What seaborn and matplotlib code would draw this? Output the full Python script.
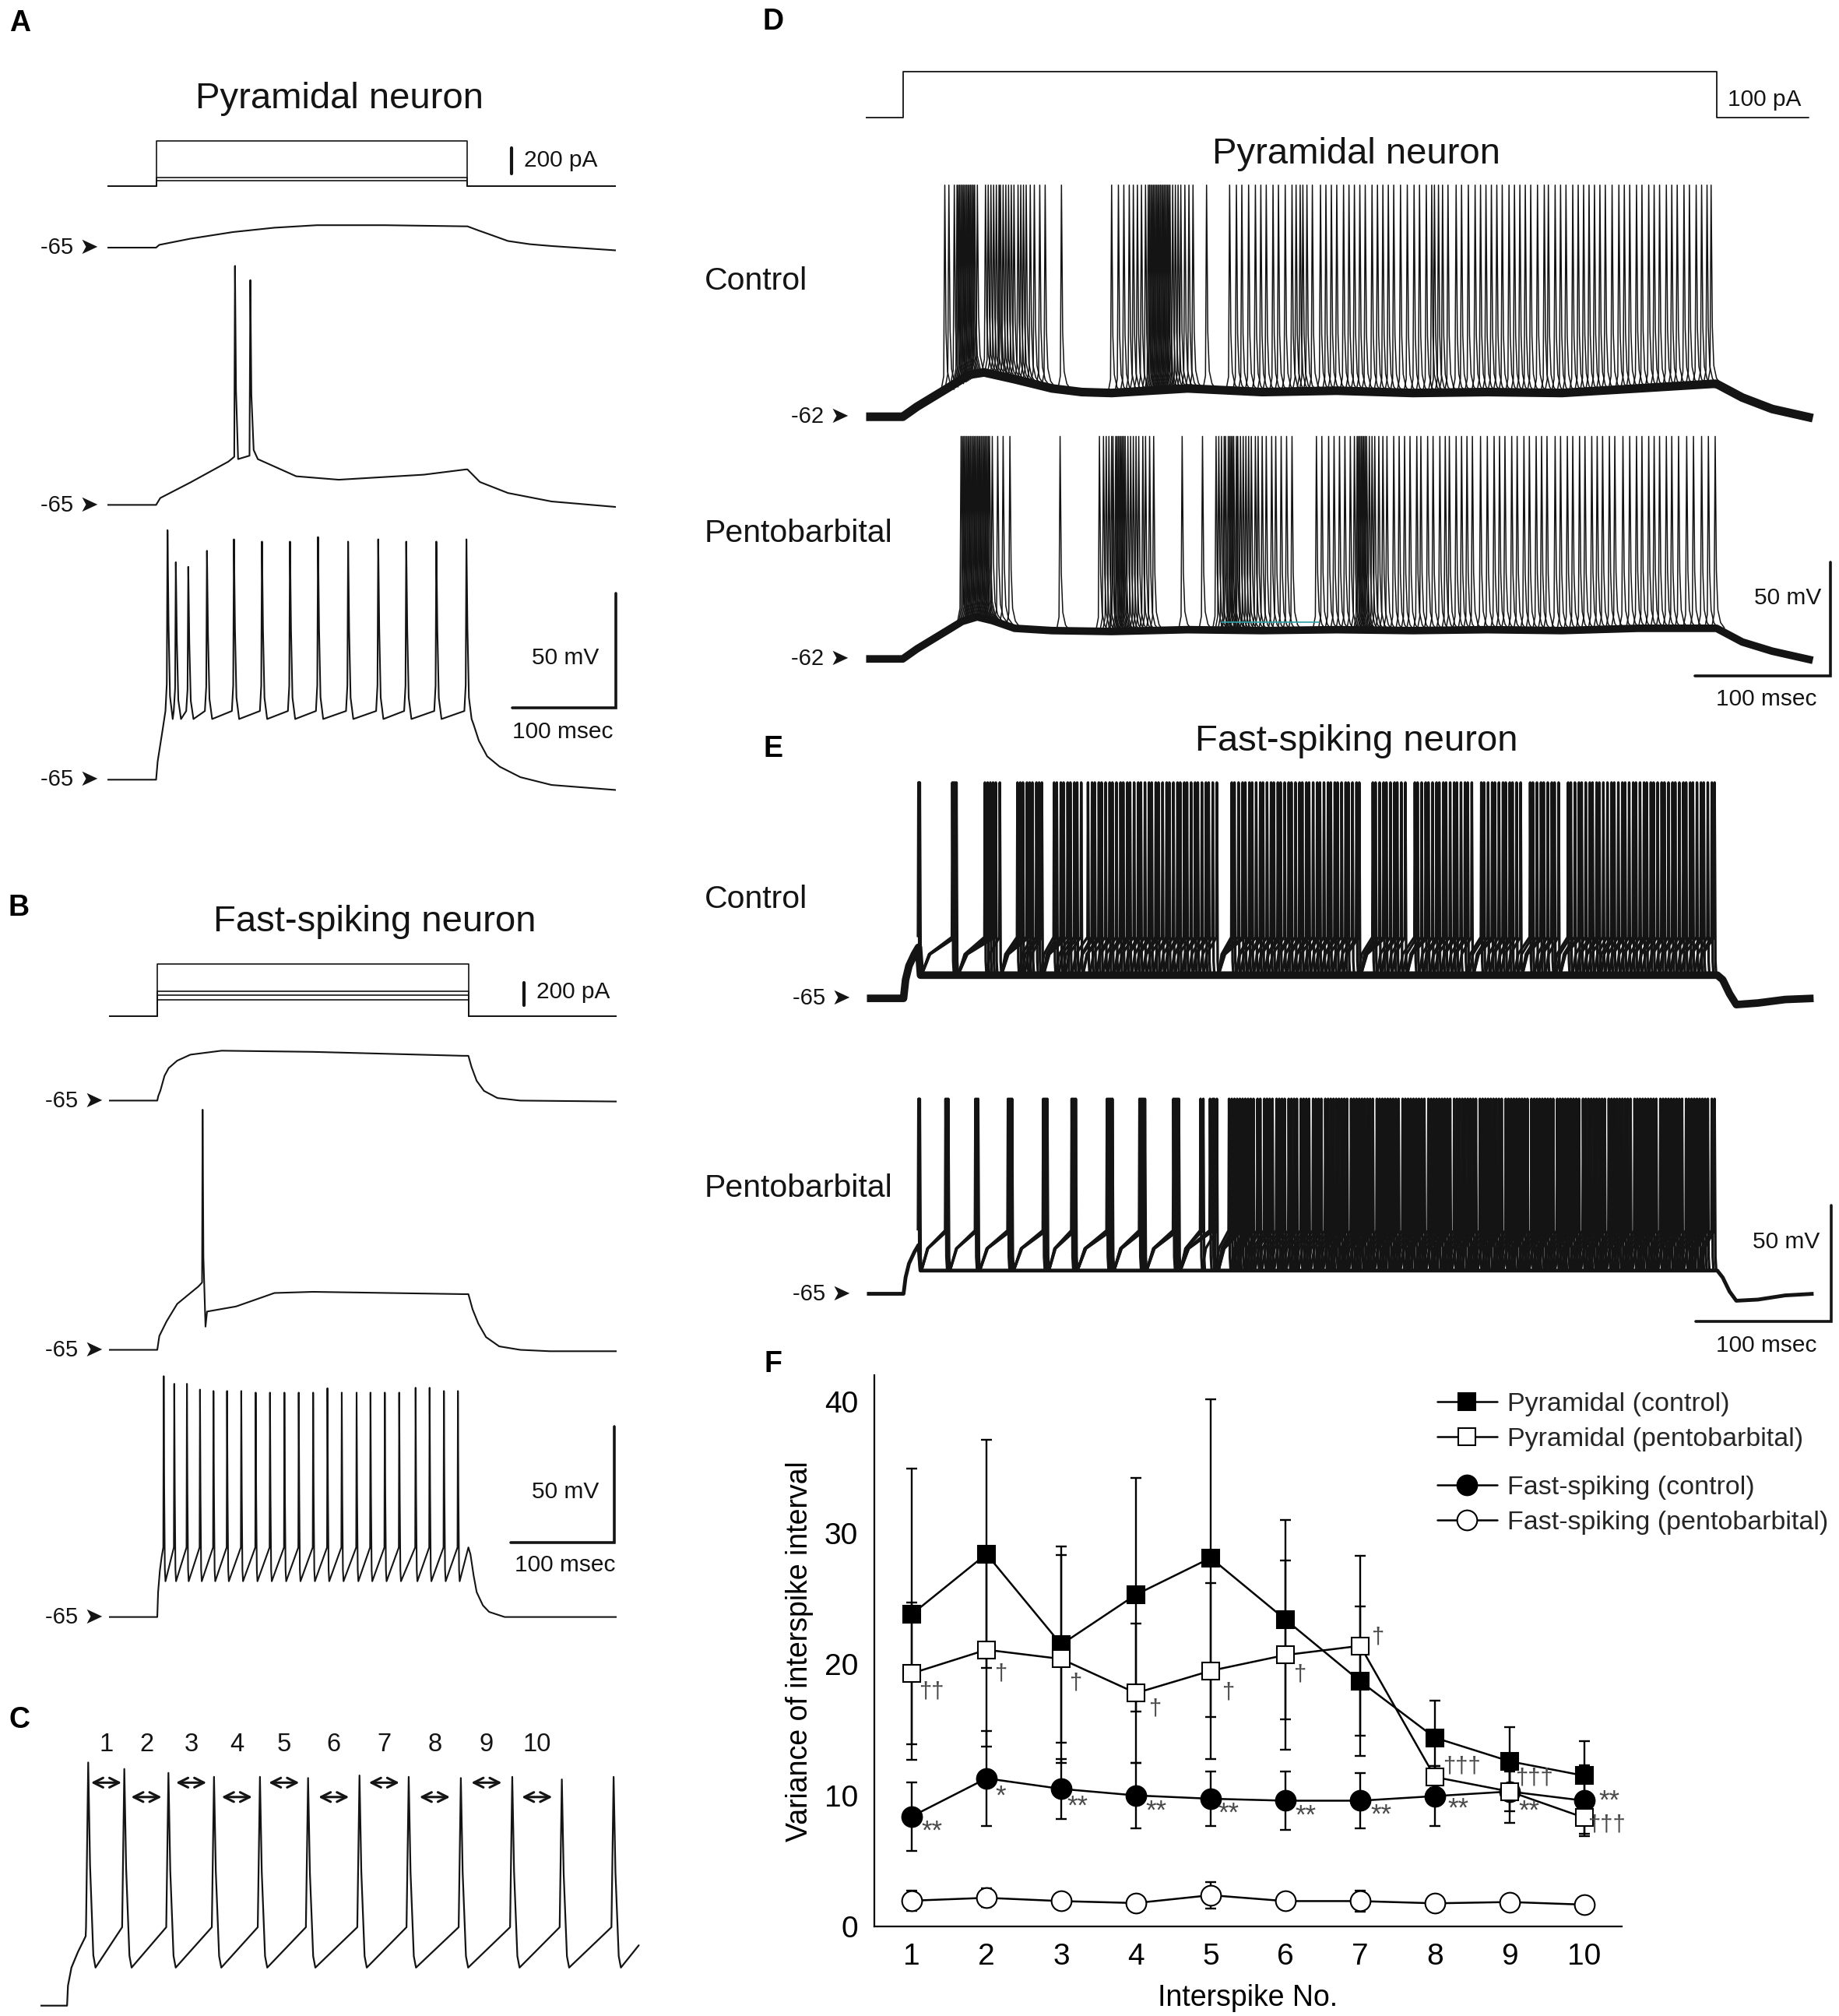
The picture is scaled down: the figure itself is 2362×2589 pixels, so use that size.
import numpy as np
import pandas as pd
import matplotlib
matplotlib.use("Agg")
import matplotlib.pyplot as plt
from matplotlib.collections import LineCollection
from matplotlib.lines import Line2D
import seaborn as sns

W, H, DPI = 2362, 2589, 100

# ---------------- F: variance of interspike interval ----------------
interspike_no = [1, 2, 3, 4, 5, 6, 7, 8, 9, 10]
pyr_ctrl = [23.8, 28.4, 21.5, 25.3, 28.1, 23.4, 18.7, 14.4, 12.6, 11.5]
pyr_ctrl_err = [11.1, 8.7, 7.5, 8.9, 12.1, 7.6, 5.7, 2.8, 2.6, 2.65]
pyr_pento = [19.3, 21.1, 20.4, 17.8, 19.5, 20.7, 21.4, 11.4, 10.3, 8.3]
pyr_pento_err = [5.4, 7.4, 7.9, 5.3, 6.7, 7.2, 6.85, 0.85, 1.5, 1.2]
fs_ctrl = [8.4, 11.3, 10.5, 10.0, 9.75, 9.6, 9.6, 9.95, 10.3, 9.6]
fs_ctrl_err = [2.6, 3.6, 2.3, 2.5, 2.1, 2.2, 2.1, 2.3, 2.4, 2.7]
fs_pento = [1.98, 2.2, 1.95, 1.8, 2.4, 1.95, 1.95, 1.78, 1.88, 1.68]
fs_pento_err = [0.75, 0.7, 0.4, 0.3, 1.0, 0.3, 0.8, 0.3, 0.3, 0.2]
pento_marks = ["††", "†", "†", "†", "†", "†", "†", "†††", "†††", "†††"]
fs_marks = ["**", "*", "**", "**", "**", "**", "**", "**", "**", "**"]

# ---------------- A: pyramidal neuron, current steps ----------------
a_stim_pA = [42, 67, 352]
a1_t = [-47, 0, 3, 33, 74, 114, 155, 220, 298, 300, 310, 320, 339, 360, 381, 443]
a1_v = [0, 0, 1.2, 3.9, 6.8, 8.7, 9.8, 9.8, 9.3, 9.3, 7.6, 6.0, 2.9, 1.5, 0.7, -1.2]
a2_t = [-47, 0, 4, 33, 69.6, 75.3, 76, 77, 79, 90, 90.8, 91.8, 94, 98, 135, 176, 258, 298.6, 300,
        312, 339, 381, 443]
a2_v = [0, 0, 3, 9.8, 18.9, 21, 104.4, 50, 20, 21.5, 98.2, 48, 24, 20, 12.5, 11, 13.2, 15.5, 15.5,
        10, 5.2, 1.5, -0.9]
a3_spikes = [11, 19, 31, 49, 75, 102, 129, 156, 185, 214, 241, 270, 299]
a3_peaks = [109, 95, 93, 100, 105, 104, 104, 106, 104, 105, 104, 104, 105]
a3_pre, a3_trough = 30, 26.5
a3_on_t, a3_on_v = [-47, 0, 1.5, 6.2], [0, 0, 8, 21.6]
a3_off_t, a3_off_v = [306, 311, 319, 331, 351, 381, 443], [24, 17, 10.2, 5.7, 1.1, -2.3, -4.5]

# ---------------- B: fast-spiking neuron, current steps ----------------
b_stim_pA = [143, 184, 218, 456]
b1_t = [-46.5, 0, 1, 3, 7, 11, 19.2, 32, 62, 150, 295, 300, 303, 308, 315, 328, 350, 443]
b1_v = [0, 0, 2, 4.3, 10.7, 14, 17.2, 19.8, 21.5, 21, 19.3, 19.3, 14.5, 8.5, 4.2, 1.1, 0, -0.4]
b2_t = [-46.5, 0, 2, 9, 19.2, 39.6, 43.2, 43.7, 44.5, 46.5, 48, 76, 113, 150, 296, 300, 304, 309.6,
        317, 329.7, 350, 378.6, 443]
b2_v = [0, 0, 6, 12.3, 19.8, 27.3, 29, 103.5, 40, 10, 16.5, 18.7, 24.5, 25, 24, 24, 17.5, 11.3,
        5.5, 1.5, 0, -0.6, -0.6]
b3_spikes = [6.2, 16.4, 28.6, 41.2, 54.2, 67.3, 81, 94.9, 108.7, 122.6, 136.4, 150.3,
             164.1, 177.9, 192.2, 205.6, 219.4, 233.3, 249.1, 262.6, 276.4, 289.9]
b3_peaks = [103.8, 100.5, 100.5, 98.0, 97.4, 97.4, 97.4, 96.7, 96.7, 96.7, 96.7, 96.7,
            98.6, 96.7, 96.7, 96.7, 96.7, 96.7, 98.8, 98.8, 97.4, 97.4]
b3_pre, b3_trough = 30, 15.4
b3_on_t, b3_on_v = [-46.5, 0, 0.8, 2.5, 4.2], [0, 0, 10.7, 20, 25.8]
b3_off_t, b3_off_v = [300, 302, 305, 308, 314, 320, 335, 443], [30, 27, 18, 10.7, 5, 2.2, 0, 0]

# ---------------- C: interspike numbering ----------------
c_spikes = [6.2, 16.1, 28.2, 40.7, 53.3, 66.5, 80.6, 94.1, 108.4, 122.5, 136.1, 150.3]
c_peaks = [104.8, 102.0, 100.3, 98.6, 98.6, 98.1, 99.2, 98.6, 98.1, 98.6, 97.5, 98.6]
c_pre, c_trough = 33.8, 16.4
c_on_t, c_on_v = [-6.8, 0.4, 0.65, 1.6, 3.4, 5.5], [0, 0, 8.6, 16.4, 23.2, 29.9]
c_off_t, c_off_v = [157.2], [26]
c_labels = ["1", "2", "3", "4", "5", "6", "7", "8", "9", "10"]

# ---------------- D: pyramidal neuron, overlaid sweeps ----------------
d_stim_pA = 100
d_ctrl_env_t = [-27, 0, 10.5, 32.7, 49, 60, 82.5, 110, 132, 154, 210, 265, 320, 376, 431, 486, 542, 597, 600, 619, 641, 671]
d_ctrl_env_v = [0, 0, 4.4, 12.4, 18.4, 19.4, 16.4, 12.4, 10.8, 10.4, 12.4, 10.8, 11.4, 10.4, 10.8, 10.4, 12.4, 14.4, 14.4, 8.4, 3.4, -0.6]
d_ctrl_peak = 101.4
d_ctrl_spikes = [31, 34, 38, 40, 41, 42, 43, 44, 45, 46, 47, 48, 49, 50, 51, 52, 53, 55,
                 61, 63, 65, 67, 69, 71, 72, 74, 76, 78, 80, 82, 85, 87, 89, 91, 94, 97, 101, 105,
                 117,
                 154, 159, 163, 167, 170, 173, 176, 179, 181, 182, 183, 184, 185, 186, 187, 188, 189, 190, 191,
                 192, 193, 194, 195, 196, 197, 199, 201, 203, 205, 208, 211, 214,
                 224, 241, 246, 250, 255, 260, 264, 268, 273, 277, 282, 287, 290, 293, 295, 298, 302, 308, 312,
                 316, 320, 325, 329, 333, 337, 341, 346, 350, 354, 358, 362, 367, 372, 377, 381, 386, 390, 392,
                 395, 398, 402, 408, 412, 417, 422, 426, 430, 434, 438, 442, 447, 451, 455, 459, 463, 468, 473,
                 476, 481, 485, 489, 494, 498, 502, 506, 510, 514, 518, 523, 528, 532, 536, 541, 545, 550, 554,
                 558, 563, 567, 571, 576, 580, 585, 589, 593, 596]
d_pento_env_t = [-27, 0, 10.5, 32.7, 43.7, 54.8, 65.9, 82.5, 110, 154, 210, 265, 320, 376, 431, 486, 542, 597, 600, 619, 641, 671]
d_pento_env_v = [0, 0, 4.4, 12.4, 16.4, 18.4, 16.8, 13.4, 12.4, 12, 12.8, 12.4, 12.8, 12.4, 12.8, 12.4, 13.4, 13.4, 13.4, 7.4, 3.4, -0.6]
d_pento_peak = 97.4
d_pento_spikes = [43, 44, 45, 46, 47, 48, 49, 50, 51, 52, 53, 54, 55, 56, 57, 58, 59, 60, 61, 62, 63, 64,
                  66, 70, 74, 79,
                  116, 145, 148, 150, 152, 154, 155, 157, 158, 159, 160, 161, 162, 163, 164, 166, 168, 170,
                  172, 174, 177, 179, 182, 185,
                  206, 221, 231, 233, 235, 237, 238, 240, 241, 242, 243, 244, 246, 247, 249, 251, 253, 255,
                  257, 260, 262, 265, 268, 272, 275, 279, 283, 287,
                  305, 309, 314, 318, 322, 326, 330, 333, 335, 336, 337, 338, 339, 340, 341, 342, 344, 346,
                  348, 351, 354, 357, 362, 366, 370, 374, 379, 382, 387, 391, 396, 400, 403, 408, 412, 416,
                  420, 426, 431, 436, 440, 444, 449, 453, 458, 462, 467, 471, 475, 481, 485, 490, 494, 499,
                  503, 508, 512, 516, 521, 525, 531, 536, 541, 545, 550, 554, 558, 563, 567, 572, 578, 583,
                  589, 594, 599]
d_pento_cyan_t, d_pento_cyan_v = [235, 307], [16, 16]

# ---------------- E: fast-spiking neuron, overlaid sweeps ----------------
e_ctrl_env_t = [-27, 0, 1.5, 4, 8, 11, 12.5, 600, 604, 609, 614, 630, 650, 671]
e_ctrl_env_v = [0, 0, 8, 14, 19, 22, 10, 10, 8, 2, -2.7, -2, -0.5, 0]
e_ctrl_peak, e_ctrl_pre, e_ctrl_trough = 93, 26.4, 10
e_ctrl_spikes = [11, 11.5, 12, 36, 37, 38, 39, 60, 62, 64, 66, 68, 71,
                 84, 86, 88, 91, 93, 95, 98, 100, 102, 111, 113, 116, 118, 121, 123, 126, 128, 131,
                 136, 139, 141, 144, 146, 149, 152, 154, 157, 160, 162, 165, 167, 170, 173, 175, 178, 181, 183,
                 186, 188, 191, 194, 196, 199, 202, 204, 207, 209, 212, 215, 217, 220, 223, 225, 228, 231,
                 242, 244, 247, 250, 252, 255, 257, 260, 263, 265, 268, 271, 273, 276, 278, 281, 284, 286, 289,
                 292, 294, 297, 299, 302, 305, 307, 310, 313, 315, 318, 320, 323, 326, 328, 331, 334, 336,
                 346, 348, 351, 354, 356, 359, 362, 364, 367, 370,
                 377, 379, 382, 385, 387, 390, 393, 395, 398, 400, 403, 406, 408, 411, 414, 416, 419,
                 426, 428, 431, 434, 436, 439, 442, 444, 447, 449, 452, 455,
                 462, 464, 467, 470, 472, 475, 478, 480, 483,
                 490, 492, 495, 498, 500, 503, 506, 508, 511, 513, 516, 519,
                 522, 524, 527, 530, 532, 535, 538, 540, 543, 546, 548, 551, 553, 556, 559, 561, 564, 567, 569,
                 572, 575, 577, 580, 582, 585, 588, 590, 593, 596, 598]
e_pento_env_t = [-27, 0, 1.5, 4, 8, 11, 12.5, 600, 604, 609, 614, 630, 650, 671]
e_pento_env_v = [0, 0, 7, 13, 18, 21, 10, 10, 7, 1, -3, -2.5, -0.7, 0]
e_pento_peak, e_pento_pre, e_pento_trough = 84, 27.3, 10
e_pento_spikes = [11, 11.5, 12, 31, 32, 33, 53, 54, 55, 77, 78, 79, 80, 103, 104, 105, 106,
                  124, 125, 126, 127, 150, 151, 152, 153, 154, 174, 175, 176, 177, 178,
                  199, 200, 201, 202, 203, 219, 221, 226, 228, 229, 231,
                  240, 242, 244, 246, 248, 250, 252, 254, 256, 258, 261, 263, 266, 268, 270, 272, 275, 277, 279,
                  281, 284, 286, 288, 290, 293, 295, 297, 299, 302, 304, 306, 308, 311, 313, 315, 317, 319, 321,
                  323, 325, 327, 330, 332, 334, 336, 338, 340, 342, 344, 346, 349, 351, 353, 355, 357, 359, 361,
                  363, 365, 368, 370, 372, 374, 376, 378, 380, 382, 384, 387, 389, 391, 393, 395, 397, 399, 401,
                  403, 406, 408, 410, 412, 414, 416, 418, 420, 422, 425, 427, 429, 431, 433, 435, 437, 439, 441,
                  444, 446, 448, 450, 452, 454, 456, 458, 460, 463, 465, 467, 469, 471, 473, 475, 477, 479, 482,
                  484, 486, 488, 490, 492, 494, 496, 498, 501, 503, 505, 507, 509, 511, 513, 515, 517, 520, 522,
                  524, 526, 528, 530, 532, 534, 536, 539, 541, 543, 545, 547, 549, 551, 553, 555, 558, 560, 562,
                  564, 566, 568, 570, 572, 574, 577, 579, 581, 583, 585, 587, 589, 591, 593, 596, 598]

# ---------------- style ----------------
sns.set_theme(style="white")
plt.rcParams["font.family"] = ["Liberation Sans", "DejaVu Sans"]
INK = "#141414"

# spike shapes: (time offset, fraction of the way from base to peak, base side)
PYR_SHAPE = [(-2.0, 0.0, "up"), (-0.7, 0.15, "up"), (0, 1.0, "up"), (1.0, 0.5, "dn"), (2.4, 0.12, "dn"), (5.0, 0.0, "dn")]
FS_SHAPE = [(-0.4, 0.0, "up"), (0, 1.0, "up"), (0.5, 0.45, "dn"), (1.1, 0.06, "dn"), (1.7, 0.0, "dn")]
C_SHAPE = [(-0.6, 0.0, "up"), (0, 1.0, "up"), (0.5, 0.5, "dn"), (1.4, 0.06, "dn"), (2.0, 0.0, "dn")]

fig = plt.figure(figsize=(W / DPI, H / DPI), dpi=DPI)


def make_ax(x0, x1, y_top, y_bot):
    return fig.add_axes([x0 / W, 1 - y_bot / H, (x1 - x0) / W, (y_bot - y_top) / H])


def trace_ax(on_px, ppms, t0, t1, base_px, ppu, lo, hi):
    ax = make_ax(on_px + t0 * ppms, on_px + t1 * ppms, base_px - hi * ppu, base_px - lo * ppu)
    ax.set_xlim(t0, t1)
    ax.set_ylim(lo, hi)
    ax.set_axis_off()
    return ax


def spike_train(on_t, on_v, spikes, peaks, pre, trough, shape, off_t, off_v):
    t, v = list(on_t), list(on_v)
    for s, p in zip(spikes, peaks):
        for dt, frac, side in shape:
            base = pre if side == "up" else trough
            t.append(s + dt)
            v.append(base + frac * (p - base))
    return t + list(off_t), v + list(off_v)


def rest_label(ax, t0, text, gap):
    ax.annotate(text, xy=(t0, 0), xytext=(-gap, 0), textcoords="offset pixels",
                ha="right", va="center", fontsize=21, color=INK)


def step_lines(ax, levels, t0, t1, dur):
    for lev in levels:
        ax.plot([t0, 0, 0, dur, dur, t1], [0, 0, lev, lev, 0, 0], color=INK, lw=1.2)


def pyr_forest(ax, spikes, peak, env_t, env_v, lw=1.1):
    segs = []
    for s in spikes:
        f = np.interp(s, env_t, env_v)
        segs.append([(s - 2.5, f + 0.5), (s - 0.8, f + 6), (s, peak), (s + 0.9, f + 25), (s + 2.0, f + 8),
                     (s + 4.0, f + 2.5), (s + 7.0, f)])
    ax.add_collection(LineCollection(segs, colors=INK, linewidths=lw))


def fs_forest(ax, spikes, peak, pre, trough, min_isi=11, lw=2.4):
    # every spike recovers from the after-hyperpolarisation of the previous spike of its sweep
    segs = []
    for s in spikes:
        earlier = [p for p in spikes if p <= s - min_isi]
        pts = []
        if earlier:
            start = earlier[-1] + 1.2
            span = (s - 0.35) - start
            pts += [(start, trough), (start + 0.25 * span, trough + 0.55 * (pre - trough))]
        pts += [(s - 0.35, pre), (s, peak), (s + 0.6, trough + 6), (s + 1.2, trough)]
        segs.append(pts)
    ax.add_collection(LineCollection(segs, colors=INK, linewidths=lw))


def scale_bars(ax, t_right, v_bottom, mv_text, ms_text):
    ax.plot([t_right - 100, t_right, t_right], [v_bottom, v_bottom, v_bottom + 50], color=INK, lw=2.6,
            solid_joinstyle="miter", clip_on=False)
    ax.text(*mv_text, "50 mV", ha="center", va="center", fontsize=21.5, color=INK)
    ax.text(*ms_text, "100 msec", ha="center", va="center", fontsize=21.5, color=INK)


# ---------------- panel A ----------------
A_ON, A_MS, A_MV = 200.5, 1.333, 2.94
ax = trace_ax(A_ON, A_MS, -47, 443, 239, 0.165, -20, 420)
step_lines(ax, a_stim_pA, -47, 443, 300)
ax.plot([342.5, 342.5], [97, 297], color=INK, lw=3)
ax.text(354.5, 200, "200 pA", ha="left", va="center", fontsize=21.5, color=INK)

ax = trace_ax(A_ON, A_MS, -47, 443, 318, A_MV, -20, 20)
ax.plot(a1_t, a1_v, color=INK, lw=1.5)
rest_label(ax, -47, "-65 ➤", 11)

ax = trace_ax(A_ON, A_MS, -47, 443, 648.4, A_MV, -20, 112)
ax.plot(a2_t, a2_v, color=INK, lw=1.5)
rest_label(ax, -47, "-65 ➤", 11)

ax = trace_ax(A_ON, A_MS, -47, 443, 1001.3, A_MV, -20, 115)
t, v = spike_train(a3_on_t, a3_on_v, a3_spikes, a3_peaks, a3_pre, a3_trough, PYR_SHAPE, a3_off_t, a3_off_v)
ax.plot(t, v, color=INK, lw=1.5)
rest_label(ax, -47, "-65 ➤", 11)
scale_bars(ax, 443, 31.4, (394, 53.2), (392, 20.9))

# ---------------- panel B ----------------
B_ON, B_MS, B_MV = 202, 1.332, 2.98
ax = trace_ax(B_ON, B_MS, -46.5, 443, 1305, 0.147, -20, 500)
step_lines(ax, b_stim_pA, -46.5, 443, 300)
ax.plot([353.6, 353.6], [95, 295], color=INK, lw=3)
ax.text(365.6, 211, "200 pA", ha="left", va="center", fontsize=21.5, color=INK)

ax = trace_ax(B_ON, B_MS, -46.5, 443, 1413.4, B_MV, -20, 30)
ax.plot(b1_t, b1_v, color=INK, lw=1.5)
rest_label(ax, -46.5, "-65 ➤", 7)

ax = trace_ax(B_ON, B_MS, -46.5, 443, 1733.5, B_MV, -20, 110)
ax.plot(b2_t, b2_v, color=INK, lw=1.5)
rest_label(ax, -46.5, "-65 ➤", 7)

ax = trace_ax(B_ON, B_MS, -46.5, 443, 2076.6, B_MV, -20, 110)
t, v = spike_train(b3_on_t, b3_on_v, b3_spikes, b3_peaks, b3_pre, b3_trough, FS_SHAPE, b3_off_t, b3_off_v)
ax.plot(t, v, color=INK, lw=1.5)
rest_label(ax, -46.5, "-65 ➤", 7)
scale_bars(ax, 441, 32.1, (393.4, 53.9), (393.4, 22.4))

# ---------------- panel C ----------------
C_MS, C_MV = 4.683, 2.98
C_ON = 113.3 - 6.2 * C_MS
ax = trace_ax(C_ON, C_MS, -6.8, 158, 2575.7, C_MV, -8, 125)
t, v = spike_train(c_on_t, c_on_v, c_spikes, c_peaks, c_pre, c_trough, C_SHAPE, c_off_t, c_off_v)
ax.plot(t, v, color=INK, lw=1.6)
for i, lab in enumerate(c_labels):
    mid = (c_spikes[i] + c_spikes[i + 1]) / 2
    y_arrow = 96.1 if i % 2 == 0 else 89.9
    ax.annotate("", xy=(mid + 4.2, y_arrow), xytext=(mid - 4.2, y_arrow),
                arrowprops=dict(arrowstyle="<->", color=INK, lw=2.2, mutation_scale=22, shrinkA=0, shrinkB=0))
    ax.text(mid, 112.6, lab, ha="center", va="center", fontsize=23.5, color=INK)

# ---------------- panel D ----------------
D_ON, D_MS, D_MV = 1159.5, 1.742, 2.934
ax = trace_ax(D_ON, D_MS, -27, 690, 151.4, 0.593, -10, 110)
ax.plot([-27, 0, 0, 600, 600, 668], [0, 0, d_stim_pA, d_stim_pA, 0, 0], color=INK, lw=1.3)
ax.text(608, 39.5, "100 pA", ha="left", va="center", fontsize=21.5, color=INK)

ax = trace_ax(D_ON, D_MS, -27, 690, 535.2, D_MV, -15, 106)
ax.plot(d_ctrl_env_t, d_ctrl_env_v, color=INK, lw=8, solid_joinstyle="round", solid_capstyle="butt")
pyr_forest(ax, d_ctrl_spikes, d_ctrl_peak, d_ctrl_env_t, d_ctrl_env_v)
rest_label(ax, -27, "-62 ➤", 22)

ax = trace_ax(D_ON, D_MS, -27, 690, 846.2, D_MV, -15, 106)
ax.plot(d_pento_env_t, d_pento_env_v, color=INK, lw=7, solid_joinstyle="round", solid_capstyle="butt")
pyr_forest(ax, d_pento_spikes, d_pento_peak, d_pento_env_t, d_pento_env_v)
ax.plot(d_pento_cyan_t, d_pento_cyan_v, color="#2b9fa6", lw=1.2)
rest_label(ax, -27, "-62 ➤", 22)
scale_bars(ax, 684, -7.6, (652.7, 26.8), (637, -17.6))

fig.text(1742 / W, 1 - 198 / H, "Pyramidal neuron", ha="center", va="center", fontsize=34, color=INK)
fig.text(905 / W, 1 - 361 / H, "Control", ha="left", va="center", fontsize=29.5, color=INK)
fig.text(905 / W, 1 - 685 / H, "Pentobarbital", ha="left", va="center", fontsize=29.5, color=INK)

# ---------------- panel E ----------------
E_ON, E_MS, E_MV = 1160.5, 1.742, 2.98
ax = trace_ax(E_ON, E_MS, -27, 690, 1282.1, E_MV, -15, 100)
ax.plot(e_ctrl_env_t, e_ctrl_env_v, color=INK, lw=7, solid_joinstyle="round", solid_capstyle="butt")
fs_forest(ax, e_ctrl_spikes, e_ctrl_peak, e_ctrl_pre, e_ctrl_trough)
rest_label(ax, -27, "-65 ➤", 21)

ax = trace_ax(E_ON, E_MS, -27, 690, 1661.5, E_MV, -20, 92)
ax.plot(e_pento_env_t, e_pento_env_v, color=INK, lw=3.5, solid_joinstyle="round", solid_capstyle="butt")
fs_forest(ax, e_pento_spikes, e_pento_peak, e_pento_pre, e_pento_trough)
rest_label(ax, -27, "-65 ➤", 21)
scale_bars(ax, 684, -11.8, (651, 22.2), (636, -22.2))

fig.text(1742 / W, 1 - 951.5 / H, "Fast-spiking neuron", ha="center", va="center", fontsize=34, color=INK)
fig.text(905 / W, 1 - 1155 / H, "Control", ha="left", va="center", fontsize=29.5, color=INK)
fig.text(905 / W, 1 - 1526 / H, "Pentobarbital", ha="left", va="center", fontsize=29.5, color=INK)

# ---------------- titles and panel letters ----------------
fig.text(436 / W, 1 - 127 / H, "Pyramidal neuron", ha="center", va="center", fontsize=34, color=INK)
fig.text(481 / W, 1 - 1184 / H, "Fast-spiking neuron", ha="center", va="center", fontsize=34, color=INK)
for letter, (px, py) in zip("ABCDEF", [(26, 30), (24, 1166), (25, 2209), (993, 28), (993, 962), (993, 1752)]):
    fig.text(px / W, 1 - py / H, letter, ha="center", va="center", fontsize=27, fontweight="bold", color="black")

# ---------------- panel F ----------------
axF = make_ax(1123, 2083, 1766.4, 2474.3)
axF.patch.set_alpha(0)
series = [
    ("Pyramidal (control)", pyr_ctrl, pyr_ctrl_err, "s", "black", 16.5),
    ("Fast-spiking (control)", fs_ctrl, fs_ctrl_err, "o", "black", 18.5),
    ("Pyramidal (pentobarbital)", pyr_pento, pyr_pento_err, "s", "white", 16.5),
    ("Fast-spiking (pentobarbital)", fs_pento, fs_pento_err, "o", "white", 18.5),
]
handles = {}
for z, (name, mean, err, mk, fill, ms) in enumerate(series):
    axF.errorbar(interspike_no, mean, yerr=err, fmt="none", ecolor="black", elinewidth=1.7,
                 capsize=5.2, capthick=1.7, zorder=2 + 2 * z)
    df = pd.DataFrame({"spike": interspike_no, "var": mean})
    sns.lineplot(data=df, x="spike", y="var", ax=axF, color="black", lw=1.8, marker=mk, markersize=ms,
                 markerfacecolor=fill, markeredgecolor="black", markeredgewidth=1.5, zorder=3 + 2 * z,
                 clip_on=False)
    handles[name] = Line2D([0], [0], color="black", lw=1.8, marker=mk, markersize=ms,
                           markerfacecolor=fill, markeredgecolor="black", markeredgewidth=1.5)

dagger_offsets = [(25, -23), (18, -31), (18, -31), (24, -20), (22, -28), (18, -25), (22, 11), (34, 14), (31, 17), (28, -9)]
star_offsets = [(26, -19), (18, -23), (21, -23), (26, -20), (23, -19), (26, -20), (27, -19), (30, -17), (25, -25), (32, -1)]
for i, x in enumerate(interspike_no):
    axF.annotate(pento_marks[i], xy=(x, pyr_pento[i]), xytext=dagger_offsets[i],
                 textcoords="offset pixels", ha="center", va="center", fontsize=21, color="#4a4a4a", zorder=20)
    axF.annotate(fs_marks[i], xy=(x, fs_ctrl[i]), xytext=star_offsets[i],
                 textcoords="offset pixels", ha="center", va="center", fontsize=25, color="#4a4a4a", zorder=20)

axF.set_xlim(0.5, 10.5)
axF.set_ylim(0, 42)
axF.set_xticks(interspike_no)
axF.set_yticks([0, 10, 20, 30, 40])
axF.tick_params(direction="out", length=10, width=1.6, labelsize=28, pad=5, colors="black")
sns.despine(ax=axF)
for side in ("left", "bottom"):
    axF.spines[side].set_linewidth(1.6)
    axF.spines[side].set_color("black")
axF.set_xlabel("Interspike No.", fontsize=27, labelpad=12, color="black")
axF.set_ylabel("Variance of interspike interval", fontsize=27, labelpad=10, color="black")
if axF.get_legend() is not None:
    axF.get_legend().remove()

leg_kw = dict(loc="upper left", frameon=False, fontsize=24.5, handlelength=2.26, handletextpad=0.38,
              labelspacing=0.42, borderpad=0, borderaxespad=0, bbox_transform=fig.transFigure)
names1 = ["Pyramidal (control)", "Pyramidal (pentobarbital)"]
names2 = ["Fast-spiking (control)", "Fast-spiking (pentobarbital)"]
leg1 = axF.legend([handles[n] for n in names1], names1, bbox_to_anchor=(1846 / W, 1 - 1788 / H), **leg_kw)
axF.add_artist(leg1)
axF.legend([handles[n] for n in names2], names2, bbox_to_anchor=(1846 / W, 1 - 1895 / H), **leg_kw)

fig.savefig("out.png", dpi=DPI)
